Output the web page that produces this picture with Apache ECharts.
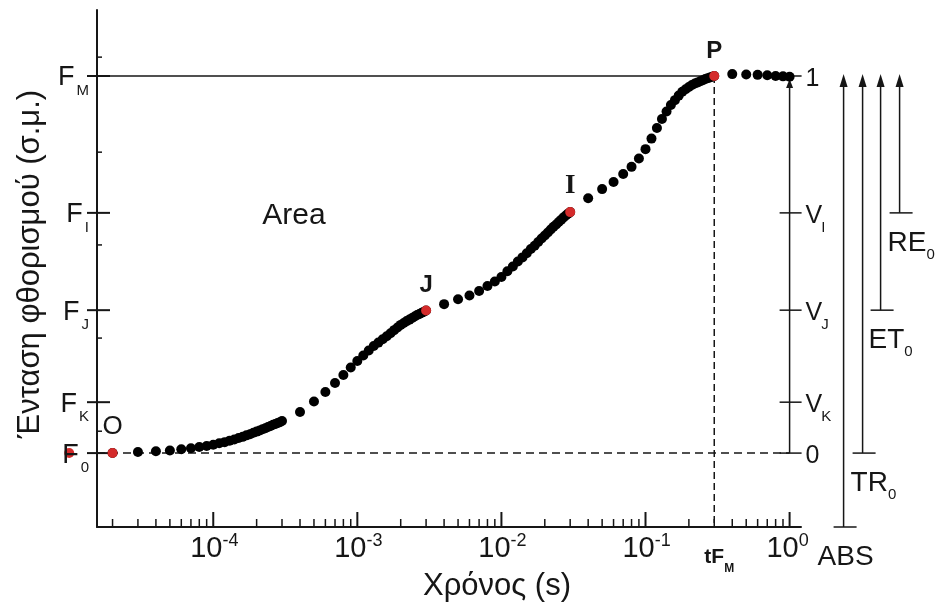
<!DOCTYPE html>
<html><head><meta charset="utf-8">
<script src="https://cdn.jsdelivr.net/npm/echarts@6/dist/echarts.min.js"></script>
<style>html,body{margin:0;padding:0;background:#fff}#c{width:936px;height:612px}</style>
</head><body><div id="c"></div>
<script>
// ---- data (time in s, relative fluorescence V: 0 = F0, 1 = FM) ----
const timesA = [2e-5,3e-5,4e-5,5e-5,6e-5,7e-5,8e-5,9e-5,1e-4,1.1e-4,1.2e-4,1.3e-4,1.4e-4,1.5e-4,1.6e-4,1.7e-4,1.8e-4,1.9e-4,2e-4,2.1e-4,2.2e-4,2.3e-4,2.4e-4,2.5e-4,2.6e-4,2.7e-4,2.8e-4,2.9e-4,3e-4];
const valuesA = [0,0.003,0.005,0.007,0.010,0.013,0.016,0.019,0.022,0.026,0.029,0.033,0.036,0.040,0.043,0.047,0.050,0.054,0.057,0.060,0.063,0.066,0.069,0.072,0.075,0.077,0.080,0.082,0.085];
const timesB = [4e-4,5e-4,6e-4,7e-4,8e-4,9e-4,1e-3,1.1e-3,1.2e-3,1.3e-3,1.4e-3,1.5e-3,1.6e-3,1.7e-3,1.8e-3,1.9e-3,2e-3,2.1e-3,2.2e-3,2.3e-3,2.4e-3,2.5e-3,2.6e-3,2.7e-3,2.8e-3,2.9e-3,3e-3];
const valuesB = [0.109,0.137,0.162,0.186,0.207,0.227,0.244,0.259,0.272,0.284,0.293,0.302,0.310,0.318,0.326,0.333,0.340,0.345,0.350,0.354,0.358,0.362,0.366,0.369,0.372,0.375,0.378];
const timesC = [0.004,0.005,0.006,0.007,0.008,0.009,0.010,0.011,0.012,0.013,0.014,0.015,0.016,0.017,0.018,0.019,0.020,0.021,0.022,0.023,0.024,0.025,0.026,0.027,0.028,0.029,0.030];
const valuesC = [0.395,0.408,0.418,0.430,0.443,0.455,0.467,0.482,0.495,0.508,0.519,0.530,0.541,0.550,0.560,0.569,0.577,0.585,0.593,0.600,0.606,0.613,0.619,0.625,0.630,0.635,0.639];
const timesD = [0.04,0.05,0.06,0.07,0.08,0.09,0.10,0.11,0.12,0.13,0.14,0.15,0.16,0.17,0.18,0.19,0.20,0.21,0.22,0.23,0.24,0.25,0.26,0.27,0.28,0.29,0.30];
const valuesD = [0.676,0.700,0.719,0.740,0.759,0.781,0.806,0.834,0.862,0.886,0.906,0.923,0.936,0.948,0.958,0.965,0.971,0.976,0.980,0.983,0.986,0.989,0.992,0.994,0.996,0.998,1.000];
const timesE = [0.4,0.5,0.6,0.7,0.8,0.9,1.0];
const valuesE = [1.005,1.004,1.003,1.002,1.000,0.999,0.998];

const redTimes  = [1e-5, 2e-5, 3e-3, 3e-2, 0.3];
const redValues = [0, 0, 0.378, 0.639, 1.0];
const redLabels = ['', 'O', 'J', 'I', 'P'];

const levelKeys   = ['M', 'I', 'J', 'K', '0'];      // F_M, F_I, F_J, F_K, F_0
const levelValues = [1, 0.637, 0.379, 0.135, 0];
const vLabelMain  = ['1', 'V', 'V', 'V', '0'];
const vLabelSub   = ['', 'I', 'J', 'K', ''];
const yMinorTicks = [1.05, 0.798, 0.552, 0.305, 0.058];

const xTickExponents = [-4, -3, -2, -1, 0];
const minorDecades = [-5, -4, -3, -2, -1];
const minorMults = [2, 3, 4, 5, 6, 7, 8, 9];
const tFM = 0.3;

const arrowNames = ['ABS', 'TR', 'ET', 'RE'];
const arrowSubs  = ['', '0', '0', '0'];
const arrowBaseKeys = ['min', 0, 0.379, 0.637];

// ---- layout ----
const X_MIN = 1.56e-5, X_MAX = 1.2, Y_MIN = -0.196, Y_MAX = 1.175;
const INK = '#161616';
const FAM = '"Liberation Sans", Arial, sans-serif';
const arrowOffsets = [54, 73, 91, 110];

const mctx = document.createElement('canvas').getContext('2d');
function tw(text, size, weight) {
  mctx.font = (weight || 'normal') + ' ' + size + 'px ' + FAM;
  return mctx.measureText(text).width;
}
function txt(x, y, text, size, align, weight, family) {
  const font = (weight || 'normal') + ' ' + size + 'px ' + (family || FAM);
  return {type: 'text', x: 0, y: 0, style: {x: x, y: y, text: text, font: font, fill: INK,
    align: align, textAlign: align, verticalAlign: 'middle', textVerticalAlign: 'middle'}};
}

function frameItem(params, api) {
  const P = (t, v) => api.coord([t, v]);
  const ch = [];
  const line = (a, b, w, dash) => ch.push({type: 'line', shape: {x1: a[0], y1: a[1], x2: b[0], y2: b[1]},
    style: {stroke: INK, lineWidth: w, lineDash: dash || null}});
  const tri = (x, tip, w, h) => ch.push({type: 'polygon', shape: {points: [[x, tip], [x - w / 2, tip + h], [x + w / 2, tip + h]]},
    style: {fill: INK}});
  const ax = P(X_MIN, 0)[0];
  const ay = P(1, Y_MIN)[1];
  const x1 = P(1, 0)[0];
  const yTop = P(1, 1)[1];
  // F level ticks on left axis
  levelValues.forEach(v => { const y = P(X_MIN, v)[1]; line([ax - 10, y], [ax + 13, y], 2); });
  yMinorTicks.forEach(v => { const y = P(X_MIN, v)[1]; line([ax, y], [ax + 5, y], 1.5); });
  // FM solid, F0 dashed, tFM dashed
  line(P(X_MIN, 1), P(tFM, 1), 1.5);
  line(P(X_MIN, 0), P(1, 0), 1.5, [8, 5]);
  line(P(tFM, 1), P(tFM, Y_MIN), 1.5, [7, 4]);
  // x ticks
  xTickExponents.forEach(e => { const x = P(Math.pow(10, e), 0)[0]; line([x, ay], [x, ay - 15], 2); });
  minorDecades.forEach(d => minorMults.forEach(k => {
    const t = k * Math.pow(10, d);
    if (t > X_MIN && t < X_MAX) { const x = P(t, 0)[0]; line([x, ay], [x, ay - 8], 1.5); }
  }));
  // right V axis
  line([x1, P(1, 0)[1]], [x1, yTop + 8], 1.5);
  tri(x1, yTop + 3, 7, 9);
  levelValues.forEach(v => { const y = P(1, v)[1]; line([x1 - 10, y], [x1 + 12, y], 1.5); });
  // ABS / TR0 / ET0 / RE0 arrows
  arrowOffsets.forEach((off, i) => {
    const x = x1 + off;
    const base = arrowBaseKeys[i] === 'min' ? ay : P(1, arrowBaseKeys[i])[1];
    line([x, base], [x, yTop + 8], 1.5);
    tri(x, yTop - 2, 8, 13);
    line([x - 10, base], [x + 13, base], 1.5);
  });
  return {type: 'group', children: ch};
}

function labelItem(params, api) {
  const P = (t, v) => api.coord([t, v]);
  const ch = [];
  const ax = P(X_MIN, 0)[0];
  const ay = P(1, Y_MIN)[1];
  const x1 = P(1, 0)[0];
  // F labels
  levelKeys.forEach((k, i) => {
    const y = P(X_MIN, levelValues[i])[1];
    const right = ax - 8;
    const sw = tw(k, 15);
    ch.push(txt(right, y + 15, k, 15, 'right'));
    ch.push(txt(right - sw - 2, y + 2, 'F', 27, 'right'));
  });
  // V labels
  vLabelMain.forEach((m, i) => {
    const y = P(1, levelValues[i])[1];
    const left = x1 + 16;
    ch.push(txt(left, y + 3, m, 25, 'left'));
    if (vLabelSub[i]) ch.push(txt(left + tw(m, 25) - 1, y + 15, vLabelSub[i], 15, 'left'));
  });
  // arrow labels
  arrowOffsets.forEach((off, i) => {
    const x = x1 + off;
    const base = arrowBaseKeys[i] === 'min' ? ay : P(1, arrowBaseKeys[i])[1];
    if (!arrowSubs[i]) {
      ch.push(txt(x + 2, base + 30, arrowNames[i], 28, 'center'));
    } else {
      const left = x - 12;
      ch.push(txt(left, base + 30, arrowNames[i], 28, 'left'));
      ch.push(txt(left + tw(arrowNames[i], 28), base + 42, arrowSubs[i], 15, 'left'));
    }
  });
  // x tick labels 10^n
  xTickExponents.forEach(e => {
    const x = P(Math.pow(10, e), 0)[0];
    ch.push(txt(x - 7, ay + 22, '10', 29, 'center'));
    ch.push(txt(x - 7 + tw('10', 29) / 2, ay + 14, String(e), 18, 'left'));
  });
  // tF_M
  const xf = P(tFM, 0)[0];
  ch.push(txt(xf, ay + 30, 'tF', 21, 'center', 'bold'));
  ch.push(txt(xf + tw('tF', 21, 'bold') / 2, ay + 42, 'M', 12, 'left', 'bold'));
  return {type: 'group', children: ch};
}

const blackData = [].concat(
  timesA.map((t, i) => [t, valuesA[i]]),
  timesB.map((t, i) => [t, valuesB[i]]),
  timesC.map((t, i) => [t, valuesC[i]]),
  timesD.map((t, i) => [t, valuesD[i]]),
  timesE.map((t, i) => [t, valuesE[i]])
);
const redData = redTimes.map((t, i) => {
  const d = {value: [t, redValues[i]], name: redLabels[i]};
  if (redLabels[i] === 'O') d.label = {fontWeight: 'normal', fontSize: 26};
  if (redLabels[i] === 'I') d.label = {fontFamily: '"Liberation Serif", serif', fontSize: 27};
  return d;
});

const chart = echarts.init(document.getElementById('c'), null, {renderer: 'canvas'});
chart.setOption({
  animation: false,
  backgroundColor: '#fff',
  grid: {left: 97, right: 135, top: 10, bottom: 85},
  xAxis: {type: 'log', logBase: 10, min: X_MIN, max: X_MAX,
    axisLine: {show: true, onZero: false, lineStyle: {color: INK, width: 2}},
    axisTick: {show: false}, axisLabel: {show: false}, splitLine: {show: false}, minorTick: {show: false}},
  yAxis: {type: 'value', min: Y_MIN, max: Y_MAX,
    axisLine: {show: true, onZero: false, lineStyle: {color: INK, width: 2}},
    axisTick: {show: false}, axisLabel: {show: false}, splitLine: {show: false}},
  graphic: [
    {type: 'text', x: 0, y: 0, style: {x: 294, y: 216, text: 'Area', font: '30px ' + FAM, fill: INK,
      align: 'center', textAlign: 'center', verticalAlign: 'middle', textVerticalAlign: 'middle'}},
    {type: 'text', x: 497, y: 586, style: {text: 'Χρόνος (s)', font: '31px ' + FAM, fill: INK,
      align: 'center', textAlign: 'center', verticalAlign: 'middle', textVerticalAlign: 'middle'}},
    {type: 'text', x: 30, y: 264, rotation: Math.PI / 2, style: {text: 'Ένταση φθορισμού (σ.μ.)', font: '31px ' + FAM, fill: INK,
      align: 'center', textAlign: 'center', verticalAlign: 'middle', textVerticalAlign: 'middle'}}
  ],
  series: [
    {type: 'custom', name: 'frame', coordinateSystem: 'cartesian2d', silent: true, z: 1,
      data: [[1, 0]], renderItem: frameItem, clip: false},
    {type: 'scatter', name: 'OJIP', data: blackData, symbol: 'circle', symbolSize: 10, z: 3,
      itemStyle: {color: '#000', opacity: 1}, silent: true},
    {type: 'scatter', name: 'steps', data: redData, symbol: 'circle', symbolSize: 10, z: 4, clip: false,
      itemStyle: {color: '#d42b2b', opacity: 1}, silent: true,
      label: {show: true, position: 'top', distance: 8, color: INK, fontFamily: FAM, fontSize: 24, fontWeight: 'bold',
        formatter: p => p.name}},
    {type: 'custom', name: 'labels', coordinateSystem: 'cartesian2d', silent: true, z: 6,
      data: [[1, 0]], renderItem: labelItem, clip: false}
  ]
});
</script>
</body></html>
